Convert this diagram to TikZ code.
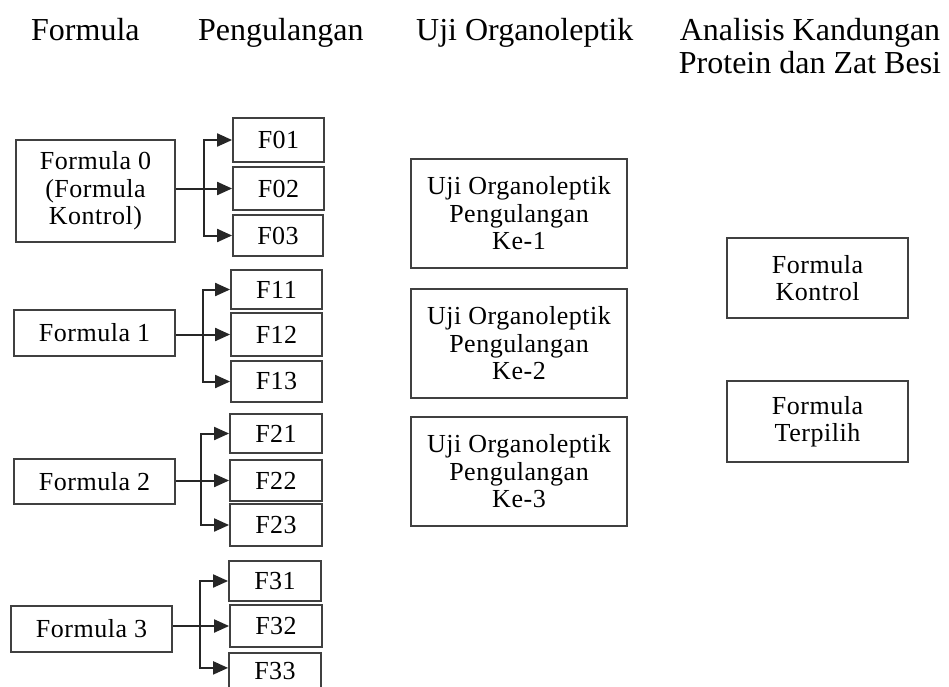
\documentclass[tikz,border=0pt]{standalone}
\usepackage{fontspec}
\setmainfont{Liberation Serif}
\newfontfamily\boxfont[LetterSpace=2]{Liberation Serif}
\usetikzlibrary{arrows.meta}
\definecolor{boxline}{HTML}{404040}
\tikzset{
  box/.style={draw=boxline, line width=1.8pt, inner sep=0pt, align=center,
    font=\boxfont\fontsize{26}{27.5}\selectfont},
  head/.style={inner sep=0pt, font=\fontsize{32}{36}\selectfont},
  conn/.style={line width=2pt, draw=black!85},
  arr/.style={conn, -{Triangle[length=15pt,width=13pt]}},
}
\begin{document}
\begin{tikzpicture}[x=1pt,y=-1pt]
\useasboundingbox (0,0) rectangle (949,686);
% headers
\node[head, anchor=base west] (h1) at (31,40) {Formula};
\node[head, anchor=base west] (h2) at (198,40) {Pengulangan};
\node[head, anchor=base west] (h3) at (416,40) {Uji Organoleptik};
\node[head, anchor=base] (h4a) at (810,40) {Analisis Kandungan};
\node[head, anchor=base] (h4b) at (810,73) {Protein dan Zat Besi};
% formula 0
\node[box, minimum width=159pt, minimum height=102pt] (F0) at (95.5,191) {Formula 0\\(Formula\\Kontrol)};
\node[box, minimum width=91pt, minimum height=44pt] (F01) at (278.5,140) {F01};
\node[box, minimum width=91pt, minimum height=43pt] (F02) at (278.5,188.5) {F02};
\node[box, minimum width=90pt, minimum height=41pt] (F03) at (278,235.5) {F03};
% formula 1
\node[box, minimum width=161pt, minimum height=46pt] (F1) at (94.5,333) {Formula 1};
\node[box, minimum width=91pt, minimum height=39pt] (F11) at (276.5,289.5) {F11};
\node[box, minimum width=91pt, minimum height=43pt] (F12) at (276.5,334.5) {F12};
\node[box, minimum width=91pt, minimum height=41pt] (F13) at (276.5,381.5) {F13};
% formula 2
\node[box, minimum width=161pt, minimum height=45pt] (F2) at (94.5,481.5) {Formula 2};
\node[box, minimum width=92pt, minimum height=39pt] (F21) at (276,433.5) {F21};
\node[box, minimum width=92pt, minimum height=41pt] (F22) at (276,480.5) {F22};
\node[box, minimum width=92pt, minimum height=42pt] (F23) at (276,525) {F23};
% formula 3
\node[box, minimum width=161pt, minimum height=46pt] (F3) at (91.5,629) {Formula 3};
\node[box, minimum width=92pt, minimum height=40pt] (F31) at (275,581) {F31};
\node[box, minimum width=92pt, minimum height=42pt] (F32) at (276,626) {F32};
\node[box, minimum width=92pt, minimum height=36pt, anchor=north] (F33) at (275,652) {F33};
% organoleptik
\node[box, minimum width=216pt, minimum height=109pt] (U1) at (519,213.5) {Uji Organoleptik\\Pengulangan\\Ke-1};
\node[box, minimum width=216pt, minimum height=109pt] (U2) at (519,343.5) {Uji Organoleptik\\Pengulangan\\Ke-2};
\node[box, minimum width=216pt, minimum height=109pt] (U3) at (519,471.5) {Uji Organoleptik\\Pengulangan\\Ke-3};
% analisis
\node[box, minimum width=181pt, minimum height=80pt] (K) at (817.5,278) {Formula\\Kontrol};
\node[box, minimum width=181pt, minimum height=81pt] (T) at (817.5,421.5) {Formula\\Terpilih};
% junctions
\coordinate (j0) at (204,188.5);
\coordinate (j1) at (203,334.5);
\coordinate (j2) at (201,480.5);
\coordinate (j3) at (200,626);
% connectors
\draw[arr] (F0.east |- F02.west) -- (F02.west);
\draw[arr] (j0) |- (F01.west);
\draw[arr] (j0) |- (F03.west);
\draw[arr] (F1.east |- F12.west) -- (F12.west);
\draw[arr] (j1) |- (F11.west);
\draw[arr] (j1) |- (F13.west);
\draw[arr] (F2.east |- F22.west) -- (F22.west);
\draw[arr] (j2) |- (F21.west);
\draw[arr] (j2) |- (F23.west);
\draw[arr] (F3.east |- F32.west) -- (F32.west);
\draw[arr] (j3) |- (F31.west);
\draw[arr] ([yshift=3pt]j3) |- ([yshift=3pt]F33.west);
\end{tikzpicture}
\end{document}
